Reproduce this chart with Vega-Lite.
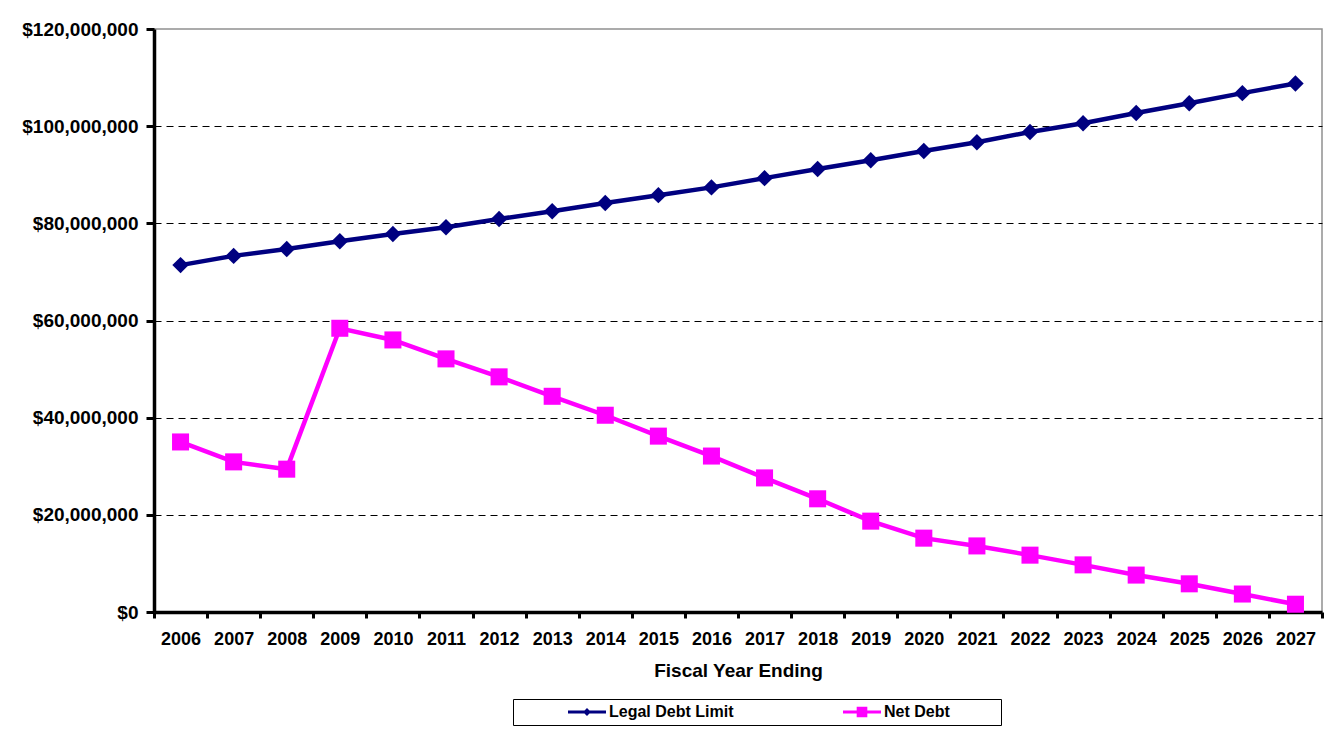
{
  "$schema": "https://vega.github.io/schema/vega-lite/v6.json",
  "width": 1168,
  "height": 583,
  "autosize": {"type": "none"},
  "padding": {"left": 154, "top": 29, "right": 16, "bottom": 117},
  "background": "white",
  "config": {
    "font": "Liberation Sans",
    "view": {"stroke": "#909090", "strokeWidth": 1.5}
  },
  "data": {
    "values": [
      {"year": "2006", "series": "Legal Debt Limit", "value": 71400000},
      {"year": "2007", "series": "Legal Debt Limit", "value": 73300000},
      {"year": "2008", "series": "Legal Debt Limit", "value": 74700000},
      {"year": "2009", "series": "Legal Debt Limit", "value": 76300000},
      {"year": "2010", "series": "Legal Debt Limit", "value": 77800000},
      {"year": "2011", "series": "Legal Debt Limit", "value": 79200000},
      {"year": "2012", "series": "Legal Debt Limit", "value": 80900000},
      {"year": "2013", "series": "Legal Debt Limit", "value": 82500000},
      {"year": "2014", "series": "Legal Debt Limit", "value": 84200000},
      {"year": "2015", "series": "Legal Debt Limit", "value": 85800000},
      {"year": "2016", "series": "Legal Debt Limit", "value": 87400000},
      {"year": "2017", "series": "Legal Debt Limit", "value": 89300000},
      {"year": "2018", "series": "Legal Debt Limit", "value": 91200000},
      {"year": "2019", "series": "Legal Debt Limit", "value": 93000000},
      {"year": "2020", "series": "Legal Debt Limit", "value": 94900000},
      {"year": "2021", "series": "Legal Debt Limit", "value": 96700000},
      {"year": "2022", "series": "Legal Debt Limit", "value": 98800000},
      {"year": "2023", "series": "Legal Debt Limit", "value": 100600000},
      {"year": "2024", "series": "Legal Debt Limit", "value": 102700000},
      {"year": "2025", "series": "Legal Debt Limit", "value": 104700000},
      {"year": "2026", "series": "Legal Debt Limit", "value": 106800000},
      {"year": "2027", "series": "Legal Debt Limit", "value": 108800000},
      {"year": "2006", "series": "Net Debt", "value": 35000000},
      {"year": "2007", "series": "Net Debt", "value": 30900000},
      {"year": "2008", "series": "Net Debt", "value": 29400000},
      {"year": "2009", "series": "Net Debt", "value": 58400000},
      {"year": "2010", "series": "Net Debt", "value": 56000000},
      {"year": "2011", "series": "Net Debt", "value": 52100000},
      {"year": "2012", "series": "Net Debt", "value": 48400000},
      {"year": "2013", "series": "Net Debt", "value": 44400000},
      {"year": "2014", "series": "Net Debt", "value": 40500000},
      {"year": "2015", "series": "Net Debt", "value": 36200000},
      {"year": "2016", "series": "Net Debt", "value": 32100000},
      {"year": "2017", "series": "Net Debt", "value": 27600000},
      {"year": "2018", "series": "Net Debt", "value": 23300000},
      {"year": "2019", "series": "Net Debt", "value": 18700000},
      {"year": "2020", "series": "Net Debt", "value": 15200000},
      {"year": "2021", "series": "Net Debt", "value": 13600000},
      {"year": "2022", "series": "Net Debt", "value": 11700000},
      {"year": "2023", "series": "Net Debt", "value": 9700000},
      {"year": "2024", "series": "Net Debt", "value": 7600000},
      {"year": "2025", "series": "Net Debt", "value": 5800000},
      {"year": "2026", "series": "Net Debt", "value": 3700000},
      {"year": "2027", "series": "Net Debt", "value": 1600000}
    ]
  },
  "encoding": {
    "x": {
      "field": "year",
      "type": "ordinal",
      "bandPosition": 0.5,
      "scale": {"type": "band", "paddingInner": 0, "paddingOuter": 0},
      "axis": {
        "title": "Fiscal Year Ending",
        "titleFont": "Liberation Sans",
        "titleFontSize": 19,
        "titleFontWeight": "bold",
        "titleColor": "black",
        "titlePadding": 13,
        "labelAngle": 0,
        "labelFont": "Liberation Sans",
        "labelFontSize": 18,
        "labelFontWeight": "bold",
        "labelColor": "black",
        "labelPadding": 12,
        "domainColor": "black",
        "domainWidth": 3.5,
        "tickColor": "black",
        "tickWidth": 3,
        "tickSize": 6,
        "tickBand": "extent",
        "grid": false
      }
    },
    "y": {
      "field": "value",
      "type": "quantitative",
      "scale": {"domain": [0, 120000000], "nice": false, "zero": true},
      "axis": {
        "title": null,
        "values": [0, 20000000, 40000000, 60000000, 80000000, 100000000, 120000000],
        "format": "$,.0f",
        "labelFont": "Liberation Sans",
        "labelFontSize": 19,
        "labelFontWeight": "bold",
        "labelColor": "black",
        "labelPadding": 8,
        "domainColor": "black",
        "domainWidth": 3.5,
        "tickColor": "black",
        "tickWidth": 3,
        "tickSize": 8,
        "grid": true,
        "gridColor": "#000000",
        "gridWidth": 1,
        "gridDash": [7, 5],
        "gridOpacity": {"condition": {"test": "datum.value >= 120000000 || datum.value <= 0", "value": 0}, "value": 1}
      }
    },
    "color": {
      "field": "series",
      "type": "nominal",
      "scale": {"domain": ["Legal Debt Limit", "Net Debt"], "range": ["#000080", "#FF00FF"]},
      "legend": {
        "title": "\u00a0",
        "titleOrient": "right",
        "titlePadding": 46,
        "titleFontSize": 4,
        "orient": "none",
        "legendX": 359,
        "legendY": 670,
        "direction": "horizontal",
        "strokeColor": "black",
        "padding": 5,
        "symbolOffset": 61,
        "columnPadding": 59,
        "symbolSize": 196,
        "symbolStrokeWidth": 0,
        "labelFont": "Liberation Sans",
        "labelFontSize": 16,
        "labelFontWeight": "bold",
        "labelColor": "black",
        "labelOffset": 14,
        "encode": {
          "symbols": {
            "update": {
              "shape": {"signal": "datum.value === 'Net Debt' ? 'M-2.714,-0.214L-0.76,-0.214L-0.76,-0.76L0.76,-0.76L0.76,-0.214L2.714,-0.214L2.714,0.214L0.76,0.214L0.76,0.76L-0.76,0.76L-0.76,0.214L-2.714,0.214Z' : 'M-2.714,-0.214L-0.357,-0.214L0,-0.571L0.357,-0.214L2.714,-0.214L2.714,0.214L0.357,0.214L0,0.571L-0.357,0.214L-2.714,0.214Z'"},
              "fill": {"signal": "scale('color', datum.value)"},
              "stroke": {"value": "transparent"},
              "opacity": {"value": 1}
            }
          }
        }
      }
    }
  },
  "layer": [
    {
      "mark": {"type": "line", "strokeWidth": 4.5},
      "encoding": {}
    },
    {
      "transform": [{"filter": "datum.series === 'Legal Debt Limit'"}],
      "mark": {"type": "point", "filled": true, "opacity": 1, "shape": "diamond", "size": 270},
      "encoding": {}
    },
    {
      "transform": [{"filter": "datum.series === 'Net Debt'"}],
      "mark": {"type": "point", "filled": true, "opacity": 1, "shape": "square", "size": 290},
      "encoding": {}
    }
  ]
}
